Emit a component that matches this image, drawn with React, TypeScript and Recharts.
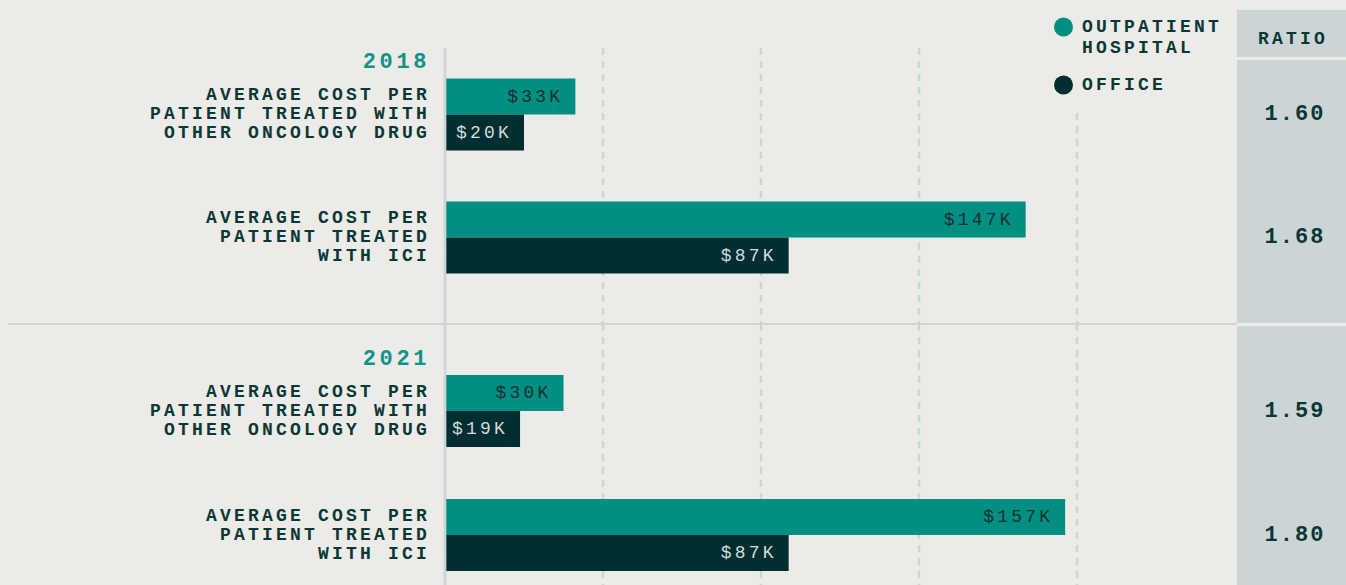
import React from 'react';
import { BarChart, Bar, XAxis, YAxis, CartesianGrid, LabelList } from 'recharts';

// ---- data ----
const years = ['2018', '2021'];
const categoryKeys = ['other', 'ici'];
const categoryLines = [
  ['AVERAGE COST PER', 'PATIENT TREATED WITH', 'OTHER ONCOLOGY DRUG'],
  ['AVERAGE COST PER', 'PATIENT TREATED', 'WITH ICI'],
];
const seriesNames = ['OUTPATIENT HOSPITAL', 'OFFICE'];
const outpatient2018 = [33, 147];
const office2018 = [20, 87];
const outpatient2021 = [30, 157];
const office2021 = [19, 87];
const ratio2018 = ['1.60', '1.68'];
const ratio2021 = ['1.59', '1.80'];
const xTicks = [0, 40, 80, 120, 160];
const xDomain = [0, 200];
const ratioHeader = 'RATIO';

// ---- style ----
const W = 1346;
const H = 585;
const BG = '#ecebe7';
const TEAL = '#008f82';
const DARK = '#012e30';
const GRID = '#cdd5d5';
const COL = '#ccd5d5';
const TEXT = '#0a3836';
const YEAR = '#12938a';
const FONT = "'Liberation Mono', 'DejaVu Sans Mono', monospace";
const LS = 3.2;

function makeRows(outp: number[], off: number[], ratios: string[]) {
  return categoryKeys.map((k, i) => ({ key: k, outpatient: outp[i], office: off[i], ratio: ratios[i] }));
}

const rows2018 = makeRows(outpatient2018, office2018, ratio2018);
const rows2021 = makeRows(outpatient2021, office2021, ratio2021);

const makeLeftTick = (year: string) => (props: any) => {
  const { x, y, payload, index } = props;
  const ci = categoryKeys.indexOf(payload.value);
  const lines = categoryLines[ci] || [];
  const ax = x - 15;
  const lh = 19.3;
  const start = -((lines.length - 1) / 2) * lh;
  return (
    <g>
      {index === 0 && (
        <text x={ax} y={y - 52} textAnchor="end" dominantBaseline="central" fill={YEAR}
          style={{ fontFamily: FONT, fontWeight: 700, fontSize: 22, letterSpacing: 3.6 }}>
          {year}
        </text>
      )}
      {lines.map((l, i) => (
        <text key={i} x={ax} y={y + start + i * lh} textAnchor="end" dominantBaseline="central" fill={TEXT}
          style={{ fontFamily: FONT, fontWeight: 700, fontSize: 18, letterSpacing: LS }}>
          {l}
        </text>
      ))}
    </g>
  );
};

const makeRightTick = (rows: any[]) => (props: any) => {
  const { x, y, payload } = props;
  const r = rows.find((d) => d.key === payload.value);
  return (
    <text x={x + 60} y={y} textAnchor="middle" dominantBaseline="central" fill={TEXT}
      style={{ fontFamily: FONT, fontWeight: 700, fontSize: 22, letterSpacing: 2 }}>
      {r ? r.ratio : ''}
    </text>
  );
};

const makeValueLabel = (color: string) => (props: any) => {
  const { x, y, width, height, value } = props;
  return (
    <text x={x + width - 12} y={y + height / 2} textAnchor="end" dominantBaseline="central" fill={color}
      style={{ fontFamily: FONT, fontWeight: 400, fontSize: 18, letterSpacing: LS }}>
      {`$${value}K`}
    </text>
  );
};

// vertical grid only at the listed ticks (no line at the domain end)
const gridGenerator = (args: any) => {
  const axis = args && args.xAxis;
  const sc = axis && axis.scale;
  if (typeof sc === 'function') return xTicks.map((t) => sc(t));
  if (sc && typeof sc.map === 'function') return xTicks.map((t) => sc.map(t));
  const off = args && args.offset;
  if (off) {
    return xTicks.map((t) => off.left + ((t - xDomain[0]) / (xDomain[1] - xDomain[0])) * off.width);
  }
  return [];
};

function YearChart(p: { year: string; rows: any[]; top: number; height: number; marginTop: number; padTop: number; padBottom: number }) {
  return (
    <div style={{ position: 'absolute', left: 0, top: p.top, width: W, height: p.height }}>
      <BarChart width={W} height={p.height} data={p.rows} layout="vertical"
        margin={{ top: p.marginTop, right: 0, bottom: 0, left: 0 }} barGap={0} barSize={36}>
        <CartesianGrid yAxisId="left" horizontal={false} vertical stroke={GRID} strokeWidth={2.5}
          strokeDasharray="7 6" verticalCoordinatesGenerator={gridGenerator} />
        <XAxis type="number" domain={xDomain} ticks={xTicks} hide />
        <YAxis yAxisId="left" type="category" dataKey="key" width={445} tickSize={0} tickMargin={0}
          tickLine={false} axisLine={{ stroke: GRID, strokeWidth: 2.7 }} interval={0}
          padding={{ top: p.padTop, bottom: p.padBottom }} tick={makeLeftTick(p.year)} />
        <YAxis yAxisId="right" orientation="right" type="category" dataKey="key" width={111} tickSize={0}
          tickMargin={0} tickLine={false} axisLine={false} interval={0}
          padding={{ top: p.padTop, bottom: p.padBottom }} tick={makeRightTick(p.rows)} />
        <Bar yAxisId="left" dataKey="outpatient" fill={TEAL} isAnimationActive={false}>
          <LabelList dataKey="outpatient" content={makeValueLabel('#1c2e2e')} />
        </Bar>
        <Bar yAxisId="left" dataKey="office" fill={DARK} isAnimationActive={false}>
          <LabelList dataKey="office" content={makeValueLabel('#d3dada')} />
        </Bar>
      </BarChart>
    </div>
  );
}

export default function App() {
  const colors = [TEAL, DARK];
  return (
    <div style={{ position: 'fixed', left: 0, top: 0, width: W, height: H, overflow: 'hidden', background: BG }}>
      {/* ratio column background */}
      <div style={{ position: 'absolute', left: 1237, top: 10, width: W - 1237, height: 47, background: COL }} />
      <div style={{ position: 'absolute', left: 1237, top: 60, width: W - 1237, height: H - 60, background: COL }} />
      <div style={{ position: 'absolute', left: 1237, top: 323, width: W - 1237, height: 2.5, background: BG }} />
      {/* group divider */}
      <div style={{ position: 'absolute', left: 8, top: 322.7, width: 1229, height: 2.7, background: GRID }} />

      <YearChart year={years[0]} rows={rows2018} top={0} height={324} marginTop={48} padTop={4.5} padBottom={25.5} />
      <YearChart year={years[1]} rows={rows2021} top={324} height={300} marginTop={0} padTop={25} padBottom={27} />

      {/* ratio header */}
      <svg style={{ position: 'absolute', left: 1237, top: 10 }} width={W - 1237} height={47}>
        <text x={(W - 1237) / 2 + 1.5} y={29} textAnchor="middle" dominantBaseline="central" fill={TEXT}
          style={{ fontFamily: FONT, fontWeight: 700, fontSize: 18, letterSpacing: LS }}>{ratioHeader}</text>
      </svg>

      {/* legend */}
      <svg style={{ position: 'absolute', left: 1050, top: 0 }} width={180} height={108}>
        <rect x={0} y={0} width={180} height={108} fill={BG} />
        {seriesNames.map((name, i) => {
          const words = i === 0 ? ['OUTPATIENT', 'HOSPITAL'] : [name];
          const cy = i === 0 ? 27 : 85;
          return (
            <g key={name}>
              <circle cx={13.5} cy={cy} r={9.5} fill={colors[i]} />
              {words.map((w, j) => (
                <text key={j} x={32} y={cy + j * 21} dominantBaseline="central" fill={TEXT}
                  style={{ fontFamily: FONT, fontWeight: 700, fontSize: 18, letterSpacing: LS }}>{w}</text>
              ))}
            </g>
          );
        })}
      </svg>
    </div>
  );
}
